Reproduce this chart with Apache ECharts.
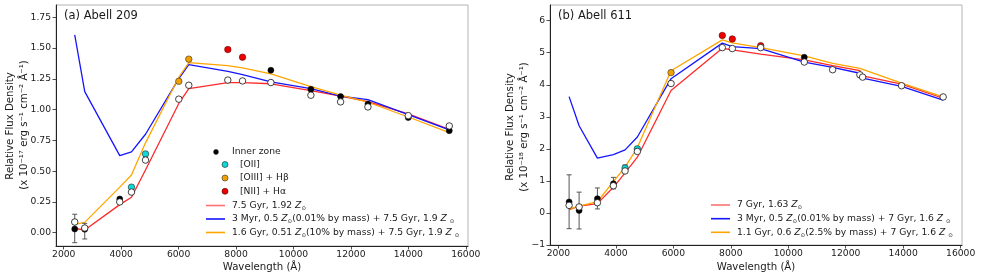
<!DOCTYPE html>
<html><head><meta charset="utf-8">
<script src="https://cdn.jsdelivr.net/npm/echarts@6/dist/echarts.min.js"></script>
<style>html,body{margin:0;padding:0;background:#fff}#c{width:981px;height:278px}</style>
</head><body><div id="c"></div>
<script>
// ---------- Panel (a) Abell 209 ----------
const lamA = [2383, 2732, 3951, 4359, 4847, 6007, 6355, 7714, 8226, 9213, 10606, 11641, 12592, 13997, 15425];
const openA = [0.087, 0.038, 0.25, 0.33, 0.59, 1.085, 1.198, 1.24, 1.233, 1.22, 1.117, 1.063, 1.022, 0.951, 0.867];
const modelRedA = [0.036, 0.022, 0.228, 0.288, 0.51, 1.05, 1.17, 1.22, 1.22, 1.21, 1.155, 1.11, 1.065, 0.965, 0.84];
const modelBlueA = [1.607, 1.146, 0.626, 0.656, 0.80, 1.252, 1.366, 1.31, 1.285, 1.225, 1.17, 1.11, 1.082, 0.96, 0.835];
const modelOrangeA = [0.068, 0.084, 0.37, 0.469, 0.73, 1.263, 1.382, 1.358, 1.339, 1.29, 1.187, 1.117, 1.06, 0.94, 0.813];
const innerLamA = [2383, 2732, 3951, 9213, 10606, 11641, 12592, 13997, 15425];
const innerA = [0.03, 0.028, 0.274, 1.32, 1.166, 1.106, 1.046, 0.935, 0.829];
const oiiLamA = [4359, 4847];
const oiiA = [0.37, 0.64];
const oiiiLamA = [6007, 6355];
const oiiiA = [1.23, 1.41];
const niiLamA = [7714, 8226];
const niiA = [1.488, 1.426];
const errLamA = [2383, 2732];
const errLoA = [-0.081, -0.051];
const errHiA = [0.15, 0.076];
const yTicksA = [0, 0.25, 0.5, 0.75, 1.0, 1.25, 1.5, 1.75];

// ---------- Panel (b) Abell 611 ----------
const lamB = [2372, 2720, 3357, 3913, 4320, 4748, 5920, 7704, 8052, 9040, 10557, 11544, 12494, 12588, 13944, 15391];
const openB = [0.237, 0.187, 0.32, 0.85, 1.31, 1.92, 4.04, 5.16, 5.13, 5.16, 4.71, 4.47, 4.31, 4.24, 3.97, 3.62];
const modelRedB = [0.10, 0.21, 0.29, 0.80, 1.25, 1.74, 3.82, 5.14, 5.09, 4.96, 4.78, 4.60, 4.44, 4.28, 4.02, 3.58];
const modelBlueB = [3.63, 2.72, 1.71, 1.82, 1.97, 2.37, 4.19, 5.30, 5.19, 5.13, 4.71, 4.54, 4.36, 4.21, 3.95, 3.52];
const modelOrangeB = [0.12, 0.21, 0.35, 0.98, 1.43, 2.04, 4.44, 5.40, 5.31, 5.16, 4.90, 4.67, 4.51, null, 4.05, 3.62];
const innerLamB = [2372, 2720, 3357, 3913, 10557];
const innerB = [0.343, 0.08, 0.445, 0.913, 4.86];
const oiiLamB = [4320, 4748];
const oiiB = [1.40, 2.0];
const oiiiLamB = [5920];
const oiiiB = [4.38];
const niiLamB = [7704, 8052, 9040];
const niiB = [5.54, 5.43, 5.22];
const errLamB = [2372, 2720, 3357, 3913, 4320];
const errLoB = [-0.49, -0.5, 0.125, 0.75, 1.30];
const errHiB = [1.19, 0.65, 0.78, 1.11, 1.50];
const yTicksB = [-1, 0, 1, 2, 3, 4, 5, 6];

const xTicks = [2000, 4000, 6000, 8000, 10000, 12000, 14000, 16000];

// ---------- helpers ----------
const FONT = 'DejaVu Sans';
const TXT = '#1a1a1a';
const zip = (xs, ys) => xs.map((x, i) => [x, ys[i]]);

function xAxis(idx, min, max) {
  return {
    gridIndex: idx, type: 'value', min: min, max: max, position: 'bottom',
    axisLine: { show: true, onZero: false, lineStyle: { color: '#222', width: 1 } },
    axisTick: { show: true, length: 3.5, lineStyle: { color: '#222', width: 0.8 }, customValues: xTicks },
    axisLabel: { customValues: xTicks, fontSize: 9.2, color: TXT, margin: 4, fontFamily: FONT, formatter: v => String(v) },
    splitLine: { show: false }
  };
}
function yAxis(idx, min, max, ticks, fmt) {
  return {
    gridIndex: idx, type: 'value', min: min, max: max, position: 'left',
    axisLine: { show: true, onZero: false, lineStyle: { color: '#222', width: 1 } },
    axisTick: { show: true, length: 3.5, lineStyle: { color: '#222', width: 0.8 }, customValues: ticks },
    axisLabel: { customValues: ticks, fontSize: 9.2, color: TXT, margin: 5, fontFamily: FONT, formatter: fmt },
    splitLine: { show: false }
  };
}
function lineSeries(idx, xs, ys, color) {
  return {
    type: 'line', xAxisIndex: idx, yAxisIndex: idx, data: zip(xs, ys),
    showSymbol: false, symbol: 'none', connectNulls: true, animation: false,
    lineStyle: { color: color, width: 1.3 }, z: 2
  };
}
function scatter(idx, xs, ys, color, border, bw, size, z) {
  return {
    type: 'scatter', xAxisIndex: idx, yAxisIndex: idx, data: zip(xs, ys),
    symbol: 'circle', symbolSize: size, animation: false, z: z,
    itemStyle: { color: color, borderColor: border, borderWidth: bw, opacity: 1 }
  };
}
function errSeries(idx, xs, lo, hi) {
  return {
    type: 'custom', xAxisIndex: idx, yAxisIndex: idx, animation: false, z: 3,
    data: xs.map((x, i) => [x, lo[i], hi[i]]),
    renderItem: function (params, api) {
      const x = api.value(0);
      const p1 = api.coord([x, api.value(1)]);
      const p2 = api.coord([x, api.value(2)]);
      const st = { stroke: '#555', lineWidth: 1 };
      const cw = 2.5;
      return {
        type: 'group', children: [
          { type: 'line', shape: { x1: p1[0], y1: p1[1], x2: p2[0], y2: p2[1] }, style: st },
          { type: 'line', shape: { x1: p1[0] - cw, y1: p1[1], x2: p1[0] + cw, y2: p1[1] }, style: st },
          { type: 'line', shape: { x1: p2[0] - cw, y1: p2[1], x2: p2[0] + cw, y2: p2[1] }, style: st }
        ]
      };
    }
  };
}

const RED = '#ff2a2a', BLUE = '#1515ff', ORANGE = '#ffa500';
const CYAN = '#10d8d8', PTORANGE = '#f0a000', PTRED = '#ee0000';

function panelSeries(idx, lam, mR, mB, mO, errL, errLo, errHi, inL, inV, o2L, o2V, o3L, o3V, n2L, n2V, openV) {
  return [
    lineSeries(idx, lam, mR, RED),
    lineSeries(idx, lam, mB, BLUE),
    lineSeries(idx, lam, mO, ORANGE),
    errSeries(idx, errL, errLo, errHi),
    scatter(idx, inL, inV, '#000', '#000', 0.5, 6, 4),
    scatter(idx, o2L, o2V, CYAN, '#222', 0.6, 6.5, 4),
    scatter(idx, o3L, o3V, PTORANGE, '#333', 0.6, 6.5, 4),
    scatter(idx, n2L, n2V, PTRED, '#400', 0.5, 6.5, 4),
    scatter(idx, lam, openV, '#fff', '#111', 0.8, 6.5, 5)
  ];
}

// ---------- legend (graphic) ----------
const LF = 9.2;
const rich = {
  n: { fontSize: LF, fontFamily: FONT, fill: TXT, lineHeight: 12 },
  i: { fontSize: LF, fontFamily: FONT, fontStyle: 'italic', fill: TXT, lineHeight: 12 },
  s: { fontSize: 5.5, fontFamily: FONT, fill: TXT, lineHeight: 12, verticalAlign: 'bottom' }
};
function ltext(x, y, text) {
  return { type: 'text', x: x, y: y, silent: true, z: 10,
    style: { text: text, rich: rich, font: LF + 'px ' + FONT, fill: TXT, verticalAlign: 'middle', align: 'left' } };
}
function ptext(x, y, text, size, align, rot) {
  return { type: 'text', x: x, y: y, silent: true, z: 10, rotation: rot || 0,
    style: { text: text, font: size + 'px ' + FONT, fill: TXT, align: align || 'left', verticalAlign: 'middle' } };
}
function lline(x1, x2, y, color) {
  return { type: 'line', silent: true, z: 10, shape: { x1: x1, y1: y, x2: x2, y2: y }, style: { stroke: color, lineWidth: 1.6 } };
}
function ldot(x, y, fill, stroke, r) {
  return { type: 'circle', silent: true, z: 10, shape: { cx: x, cy: y, r: r }, style: { fill: fill, stroke: stroke, lineWidth: 0.6 } };
}

const Z = '{i|Z}{s|⊙}';
const AX = 10.2;
const graphics = [
  ptext(64, 16, '(a) Abell 209', 11.5),
  ptext(558, 16.5, '(b) Abell 611', 11.5),
  ptext(262, 267, 'Wavelength (Å)', AX, 'center'),
  ptext(756, 267, 'Wavelength (Å)', AX, 'center'),
  ptext(10, 126, 'Relative Flux Density', AX, 'center', Math.PI / 2),
  ptext(24, 125, '(x 10⁻¹⁷ erg s⁻¹ cm⁻² Å⁻¹)', AX, 'center', Math.PI / 2),
  ptext(510, 127, 'Relative Flux Density', AX, 'center', Math.PI / 2),
  ptext(524, 127, '(x 10⁻¹⁸ erg s⁻¹ cm⁻² Å⁻¹)', AX, 'center', Math.PI / 2),
  // left legend
  ldot(216, 152, '#000', '#000', 2.4),
  ltext(232, 152, '{n|Inner zone}'),
  ldot(225, 164.5, CYAN, '#222', 3),
  ltext(240, 164.5, '{n|[OII]}'),
  ldot(225, 178, PTORANGE, '#333', 3),
  ltext(240, 178, '{n|[OIII] + Hβ}'),
  ldot(225, 191.3, PTRED, '#400', 3),
  ltext(240, 191.3, '{n|[NII] + Hα}'),
  lline(206, 225, 205.5, '#ff7272'),
  ltext(232, 205.5, '{n|7.5 Gyr, 1.92 }' + Z),
  lline(206, 225, 219, BLUE),
  ltext(232, 219, '{n|3 Myr, 0.5 }' + Z + '{n|(0.01% by mass) + 7.5 Gyr, 1.9 }{i|Z }{s|⊙}'),
  lline(206, 225, 232.5, ORANGE),
  ltext(232, 232.5, '{n|1.6 Gyr, 0.51 }' + Z + '{n|(10% by mass) + 7.5 Gyr, 1.9 }{i|Z }{s|⊙}'),
  // right legend
  lline(711, 730, 205, '#ff7272'),
  ltext(737, 205, '{n|7 Gyr, 1.63 }' + Z),
  lline(711, 730, 218.7, BLUE),
  ltext(737, 218.7, '{n|3 Myr, 0.5 }' + Z + '{n|(0.01% by mass) + 7 Gyr, 1.6 }{i|Z }{s|⊙}'),
  lline(711, 730, 232.3, ORANGE),
  ltext(737, 232.3, '{n|1.1 Gyr, 0.6 }' + Z + '{n|(2.5% by mass) + 7 Gyr, 1.6 }{i|Z }{s|⊙}')
];

const chart = echarts.init(document.getElementById('c'), null, { renderer: 'canvas' });
chart.setOption({
  animation: false,
  backgroundColor: '#fff',
  textStyle: { fontFamily: FONT },
  grid: [
    { left: 56, top: 5, width: 412, height: 241, show: true, borderColor: '#b3b3b3', borderWidth: 1, backgroundColor: 'transparent' },
    { left: 550, top: 5, width: 412, height: 240, show: true, borderColor: '#b3b3b3', borderWidth: 1, backgroundColor: 'transparent' }
  ],
  xAxis: [xAxis(0, 1731, 16077), xAxis(1, 1707, 16047)],
  yAxis: [
    yAxis(0, -0.108, 1.85, yTicksA, v => v.toFixed(2)),
    yAxis(1, -1, 6.49, yTicksB, v => (v < 0 ? '−' + Math.abs(v) : String(v)))
  ],
  series: [].concat(
    panelSeries(0, lamA, modelRedA, modelBlueA, modelOrangeA, errLamA, errLoA, errHiA,
      innerLamA, innerA, oiiLamA, oiiA, oiiiLamA, oiiiA, niiLamA, niiA, openA),
    panelSeries(1, lamB, modelRedB, modelBlueB, modelOrangeB, errLamB, errLoB, errHiB,
      innerLamB, innerB, oiiLamB, oiiB, oiiiLamB, oiiiB, niiLamB, niiB, openB)
  ),
  graphic: graphics
});
</script></body></html>
